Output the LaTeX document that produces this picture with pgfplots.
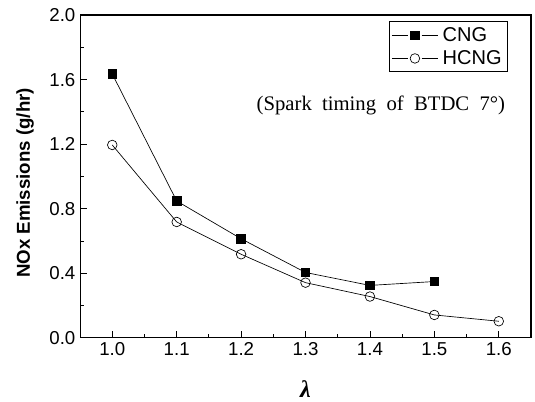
\documentclass[border=0pt]{standalone}
\usepackage{fontspec}
\setmainfont{Liberation Sans}
\newfontfamily\timesfont{Liberation Serif}
\usepackage{pgfplots}
\pgfplotsset{compat=1.18}

\begin{document}
\begin{tikzpicture}
  \begin{axis}[
    name=ax,
    width=338pt, height=242pt,
    scale only axis,
    xmin=0.95, xmax=1.65,
    ymin=0, ymax=2.0,
    xtick={1.0,1.1,1.2,1.3,1.4,1.5,1.6},
    ytick={0,0.4,0.8,1.2,1.6,2.0},
    minor tick num=1,
    tick align=inside,
    xtick pos=left, ytick pos=left,
    major tick length=5pt, minor tick length=3pt,
    axis line style={line width=0.8pt},
    every tick/.style={black, line width=0.6pt},
    tick label style={font=\fontsize{14}{16}\selectfont},
    /pgf/number format/assume math mode=true,
    /pgf/number format/.cd, fixed, fixed zerofill, precision=1, /pgfplots/.cd,
    ylabel={\bfseries NOx Emissions (g/hr)},
    ylabel style={font=\fontsize{14}{16}\selectfont,
      at={(axis description cs:-0.122,0.48)}, anchor=center},
    xlabel={\timesfont\bfseries\itshape λ},
    xlabel style={font=\fontsize{18}{20}\selectfont,
      at={(axis description cs:0.5,-0.158)}, anchor=center},
    legend style={at={(0.949,0.980)}, anchor=north east,
      font=\fontsize{15}{17}\selectfont, draw=black, line width=0.5pt,
      inner xsep=2pt, inner ysep=2pt, row sep=1.5pt,
      nodes={inner xsep=2.5pt, inner ysep=2pt},
      /tikz/every odd column/.append style={column sep=1pt}},
    legend cell align=left,
    legend image code/.code={
      \draw[#1, mark=none] (0pt,0pt) -- (11.8pt,0pt);
      \draw[#1, mark=none] (22.3pt,0pt) -- (34.3pt,0pt);
      \draw[#1, only marks] plot coordinates {(17.2pt,0pt)};
    },
  ]
    \addplot[black, line width=0.5pt, mark=square*, mark size=3.2pt,
      mark options={solid, fill=black}] coordinates {
      (1.0,1.635) (1.1,0.848) (1.2,0.614) (1.3,0.405) (1.4,0.325) (1.5,0.349)
    };
    \addlegendentry{CNG}
    \addplot[black, line width=0.5pt, mark=o, mark size=3.6pt,
      mark options={solid, fill=white}] coordinates {
      (1.0,1.195) (1.1,0.718) (1.2,0.518) (1.3,0.342) (1.4,0.256) (1.5,0.142) (1.6,0.103)
    };
    \addlegendentry{HCNG}
    \node[font=\timesfont\fontsize{15.5}{17}\selectfont] at (axis cs:1.417,1.437)
      {(Spark\ \ timing\ \ of\ \ BTDC\ \ 7°)};
  \end{axis}
  \path ([xshift=-60pt, yshift=-48pt]ax.south west) rectangle
        ([xshift=3pt, yshift=11.25pt]ax.north east);
\end{tikzpicture}
\end{document}
